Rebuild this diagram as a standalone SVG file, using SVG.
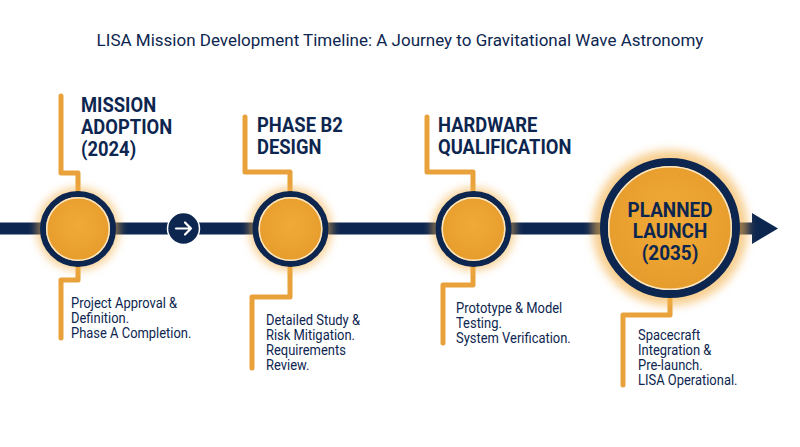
<svg xmlns="http://www.w3.org/2000/svg" width="800" height="447" viewBox="0 0 800 447">
<defs>
<style>
.title{font-family:Roboto,"Liberation Sans",sans-serif;font-size:17px;fill:#0d2650;}
.head{font-family:Roboto,"Liberation Sans",sans-serif;font-weight:700;font-size:20px;fill:#0d2650;}
.big{font-family:Roboto,"Liberation Sans",sans-serif;font-weight:700;font-size:19.5px;fill:#0d2650;}
.desc{font-family:Roboto,"Liberation Sans",sans-serif;font-size:14px;fill:#0d2650;}
.lead{fill:none;stroke:#e9a23b;stroke-width:5;stroke-linecap:round;stroke-linejoin:round;}
.ring{fill:url(#orangeFill);stroke:#0d2650;stroke-width:6;}
.inner{fill:none;stroke:#fbe7c4;stroke-width:1.5;}
.glow{fill:#f3b04a;opacity:0.55;filter:url(#blur);}
</style>
<filter id="blur" x="-50%" y="-50%" width="200%" height="200%"><feGaussianBlur stdDeviation="4"/></filter>
<radialGradient id="orangeFill" cx="50%" cy="45%" r="60%">
<stop offset="0" stop-color="#f0aa38"/>
<stop offset="1" stop-color="#e59a2a"/>
</radialGradient>
</defs>
<rect width="800" height="447" fill="#ffffff"/>
<text class="title" x="400" y="46" text-anchor="middle">LISA Mission Development Timeline: A Journey to Gravitational Wave Astronomy</text>
<g id="connectors">
<rect x="0" y="222.5" width="756" height="12" fill="#0d2650"/>
<polygon points="752,213 778,228.5 752,244" fill="#0d2650"/>
<path class="lead" d="M61,96 V173 H78 V191"/>
<path class="lead" d="M78,267 V280 H61 V338"/>
<path class="lead" d="M245,117 V172 H290 V191"/>
<path class="lead" d="M290,267 V297 H252 V368"/>
<path class="lead" d="M427,117 V172 H473 V191"/>
<path class="lead" d="M473,267 V285 H443 V343"/>
<path class="lead" d="M670,299 V315 H623 V385"/>
</g>
<g id="arrow-marker">
<circle cx="183.5" cy="228.5" r="16" fill="#0d2650" stroke="#ffffff" stroke-width="1.5"/>
<path d="M176,228.5 H191 M185,222.5 L191,228.5 L185,234.5" fill="none" stroke="#ffffff" stroke-width="2.2" stroke-linecap="round" stroke-linejoin="round"/>
</g>
<g id="node-1">
<circle class="glow" cx="78" cy="229" r="42"/>
<circle class="ring" cx="78" cy="229" r="35"/>
<circle class="inner" cx="78" cy="229" r="31.3"/>
<text class="head" transform="translate(81 112) scale(0.92 1)">MISSION</text>
<text class="head" transform="translate(81 134) scale(0.92 1)">ADOPTION</text>
<text class="head" transform="translate(81 156) scale(0.92 1)">(2024)</text>
<text class="desc" transform="translate(71 308) scale(0.925 1)">Project Approval &amp;</text>
<text class="desc" transform="translate(71 323) scale(0.925 1)">Definition.</text>
<text class="desc" transform="translate(71 338) scale(0.925 1)">Phase A Completion.</text>
</g>
<g id="node-2">
<circle class="glow" cx="290.5" cy="229" r="42"/>
<circle class="ring" cx="290.5" cy="229" r="35"/>
<circle class="inner" cx="290.5" cy="229" r="31.3"/>
<text class="head" transform="translate(257 132) scale(0.92 1)">PHASE B2</text>
<text class="head" transform="translate(257 154) scale(0.92 1)">DESIGN</text>
<text class="desc" transform="translate(266 325) scale(0.925 1)">Detailed Study &amp;</text>
<text class="desc" transform="translate(266 340) scale(0.925 1)">Risk Mitigation.</text>
<text class="desc" transform="translate(266 355) scale(0.925 1)">Requirements</text>
<text class="desc" transform="translate(266 370) scale(0.925 1)">Review.</text>
</g>
<g id="node-3">
<circle class="glow" cx="473.5" cy="229" r="42"/>
<circle class="ring" cx="473.5" cy="229" r="35"/>
<circle class="inner" cx="473.5" cy="229" r="31.3"/>
<text class="head" transform="translate(438 132) scale(0.92 1)">HARDWARE</text>
<text class="head" transform="translate(438 154) scale(0.92 1)">QUALIFICATION</text>
<text class="desc" transform="translate(456 313) scale(0.925 1)">Prototype &amp; Model</text>
<text class="desc" transform="translate(456 328) scale(0.925 1)">Testing.</text>
<text class="desc" transform="translate(456 343) scale(0.925 1)">System Verification.</text>
</g>
<g id="node-4">
<circle cx="670" cy="228" r="78" fill="#f3b04a" opacity="0.6" filter="url(#blur)"/>
<circle cx="670" cy="228" r="66" fill="url(#orangeFill)" stroke="#0d2650" stroke-width="8"/>
<circle cx="670" cy="228" r="61.3" fill="none" stroke="#fbe7c4" stroke-width="1.5"/>
<text class="big" text-anchor="middle" transform="translate(670 216.5) scale(0.97 1)">PLANNED</text>
<text class="big" text-anchor="middle" transform="translate(670 238) scale(0.97 1)">LAUNCH</text>
<text class="big" text-anchor="middle" transform="translate(670 259.5) scale(0.97 1)">(2035)</text>
<text class="desc" transform="translate(638 340) scale(0.925 1)">Spacecraft</text>
<text class="desc" transform="translate(638 355) scale(0.925 1)">Integration &amp;</text>
<text class="desc" transform="translate(638 370) scale(0.925 1)">Pre-launch.</text>
<text class="desc" transform="translate(638 385) scale(0.925 1)">LISA Operational.</text>
</g>
</svg>
